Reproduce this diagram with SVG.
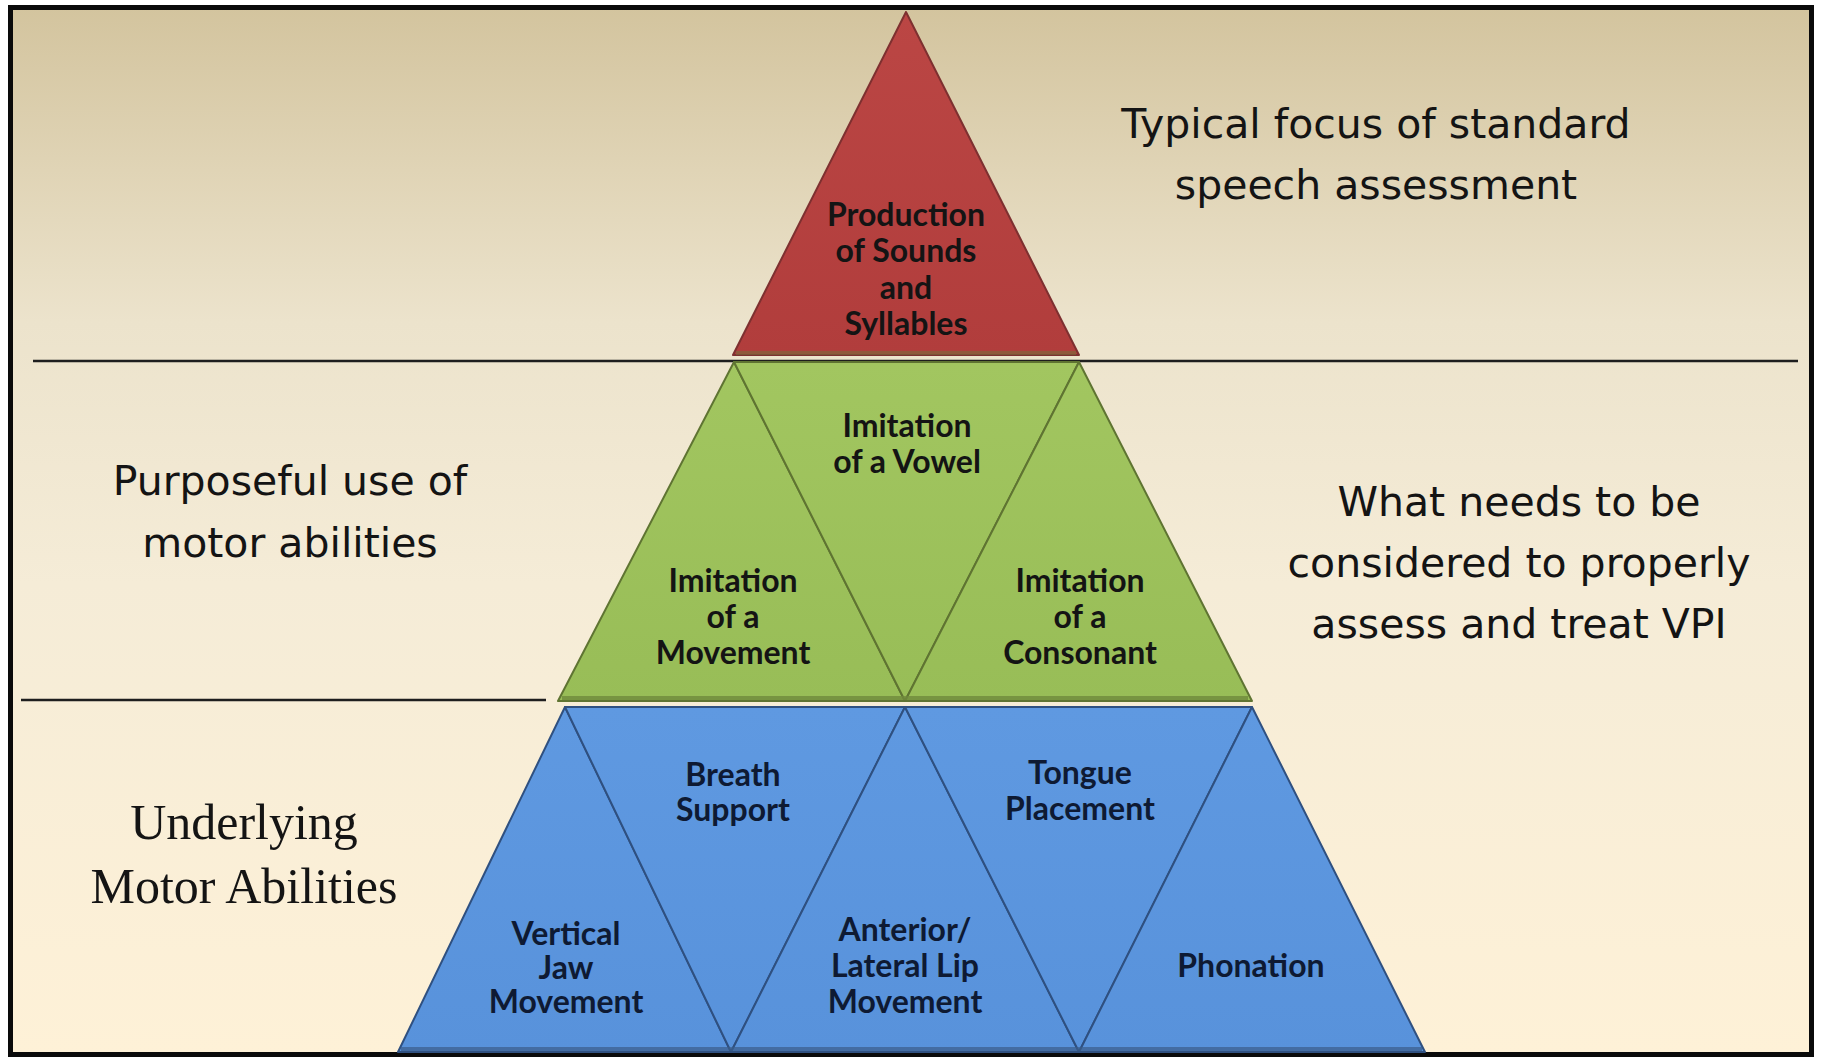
<svg xmlns="http://www.w3.org/2000/svg" width="1821" height="1057" viewBox="0 0 1821 1057">
  <defs>
    <linearGradient id="bg" x1="0" y1="0" x2="0" y2="1">
      <stop offset="0" stop-color="#d3c49e"/>
      <stop offset="0.3" stop-color="#ece3cc"/>
      <stop offset="0.55" stop-color="#f5ecd7"/>
      <stop offset="1" stop-color="#fef1d7"/>
    </linearGradient>
    <linearGradient id="gRed" x1="0" y1="0" x2="0" y2="1">
      <stop offset="0" stop-color="#bb4644"/>
      <stop offset="1" stop-color="#b13d3c"/>
    </linearGradient>
    <linearGradient id="gGreen" x1="0" y1="0" x2="0" y2="1">
      <stop offset="0" stop-color="#a2c660"/>
      <stop offset="1" stop-color="#98bd57"/>
    </linearGradient>
    <linearGradient id="gBlue" x1="0" y1="0" x2="0" y2="1">
      <stop offset="0" stop-color="#5f99e1"/>
      <stop offset="1" stop-color="#5892db"/>
    </linearGradient>
    <style>
      .red { fill: url(#gRed); stroke: #7e3030; stroke-width: 2; stroke-linejoin: round; }
      .green { fill: url(#gGreen); stroke: #5f7432; stroke-width: 2; stroke-linejoin: round; }
      .blue { fill: url(#gBlue); stroke: #2f5080; stroke-width: 2; stroke-linejoin: round; }
      .lbl { font-family: Lato, "Liberation Sans", sans-serif; font-weight: 700; font-size: 32px; text-anchor: middle; fill: #141414; }
      .lblb { font-family: Lato, "Liberation Sans", sans-serif; font-weight: 700; font-size: 32px; text-anchor: middle; fill: #0e1a33; }
      .side { font-family: "DejaVu Sans", Verdana, sans-serif; font-size: 41px; text-anchor: middle; fill: #141414; }
      .serif { font-family: "Liberation Serif", "Times New Roman", serif; font-size: 50px; text-anchor: middle; fill: #141414; }
      .sep { stroke: #1e1e1e; stroke-width: 2.5; fill: none; }
      .shade { stroke-width: 4; fill: none; }
    </style>
  </defs>

  <rect x="10.5" y="7.5" width="1801" height="1047" fill="url(#bg)" stroke="#0a0a0a" stroke-width="5"/>

  <g id="dividers">
    <line class="sep" x1="33" y1="361" x2="1798" y2="361"/>
    <line class="sep" x1="21" y1="700" x2="546" y2="700"/>
  </g>

  <g id="side-labels">
    <text class="side" x="1376" y="138">Typical focus of standard</text>
    <text class="side" x="1376" y="199">speech assessment</text>
    <text class="side" x="290" y="495">Purposeful use of</text>
    <text class="side" x="290" y="557">motor abilities</text>
    <text class="side" x="1519" y="516">What needs to be</text>
    <text class="side" x="1519" y="577">considered to properly</text>
    <text class="side" x="1519" y="638">assess and treat VPI</text>
    <text class="serif" x="244" y="839">Underlying</text>
    <text class="serif" x="244" y="903">Motor Abilities</text>
  </g>

  <g id="node-production">
    <polygon class="red" points="906,12 733,355 1079,355"/>
    <line class="shade" x1="736" y1="353" x2="1076" y2="353" stroke="#7a6a3a" stroke-opacity="0.6"/>
    <text class="lbl" x="906" y="226">Production</text>
    <text class="lbl" x="906" y="262">of Sounds</text>
    <text class="lbl" x="906" y="299">and</text>
    <text class="lbl" x="906" y="335">Syllables</text>
  </g>

  <g id="node-imitation-movement">
    <polygon class="green" points="734,362 558,701 905,701"/>
    <text class="lbl" x="733" y="592">Imitation</text>
    <text class="lbl" x="733" y="628">of a</text>
    <text class="lbl" x="733" y="664">Movement</text>
  </g>
  <g id="node-imitation-vowel">
    <polygon class="green" points="734,362 1079,362 905,701"/>
    <text class="lbl" x="907" y="437">Imitation</text>
    <text class="lbl" x="907" y="473">of a Vowel</text>
  </g>
  <g id="node-imitation-consonant">
    <polygon class="green" points="1079,362 905,701 1252,701"/>
    <text class="lbl" x="1080" y="592">Imitation</text>
    <text class="lbl" x="1080" y="628">of a</text>
    <text class="lbl" x="1080" y="664">Consonant</text>
  </g>
  <line class="shade" x1="562" y1="698" x2="1248" y2="698" stroke="#6f8a3c" stroke-opacity="0.8"/>

  <g id="node-vertical-jaw">
    <polygon class="blue" points="565,707 398,1052 731,1052"/>
    <text class="lblb" x="566" y="945">Vertical</text>
    <text class="lblb" x="566" y="979">Jaw</text>
    <text class="lblb" x="566" y="1013">Movement</text>
  </g>
  <g id="node-breath-support">
    <polygon class="blue" points="565,707 905,707 731,1052"/>
    <text class="lblb" x="733" y="786">Breath</text>
    <text class="lblb" x="733" y="821">Support</text>
  </g>
  <g id="node-anterior-lip">
    <polygon class="blue" points="905,707 731,1052 1079,1052"/>
    <text class="lblb" x="905" y="941">Anterior/</text>
    <text class="lblb" x="905" y="977">Lateral Lip</text>
    <text class="lblb" x="905" y="1013">Movement</text>
  </g>
  <g id="node-tongue-placement">
    <polygon class="blue" points="905,707 1252,707 1079,1052"/>
    <text class="lblb" x="1080" y="784">Tongue</text>
    <text class="lblb" x="1080" y="820">Placement</text>
  </g>
  <g id="node-phonation">
    <polygon class="blue" points="1252,707 1079,1052 1425,1052"/>
    <text class="lblb" x="1251" y="977">Phonation</text>
  </g>
  <line class="shade" x1="401" y1="1049" x2="1422" y2="1049" stroke="#3b5c8a" stroke-opacity="0.7"/>
</svg>
